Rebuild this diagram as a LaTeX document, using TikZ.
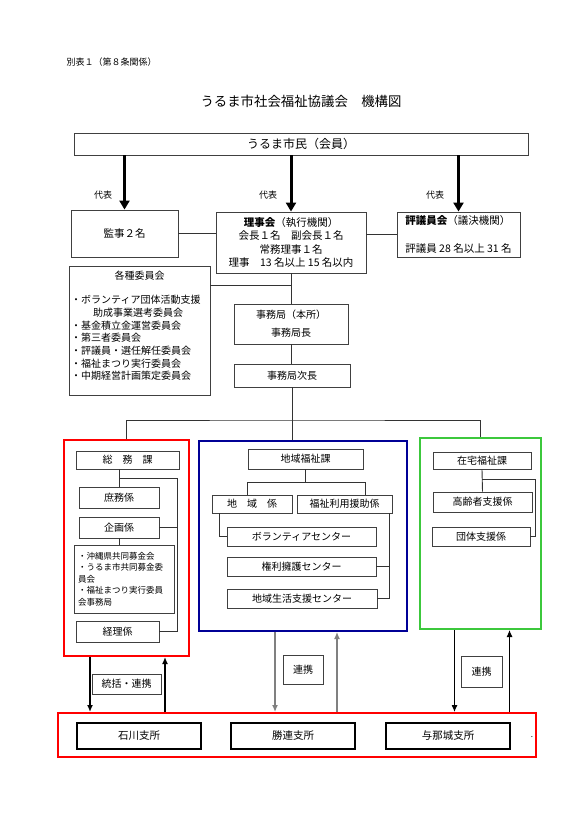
\documentclass[tikz,border=0pt]{standalone}
\usepackage{fontspec}
\setmainfont{Noto Sans CJK JP}
\usetikzlibrary{arrows.meta}
\definecolor{regionblue}{RGB}{0,0,150}
\definecolor{homegreen}{RGB}{60,200,60}

\begin{document}
\begin{tikzpicture}[x=1pt, y=-1pt,
    box/.style={draw=black!75, line width=0.9pt, inner sep=0pt, align=center, font=\fontsize{10}{12}\selectfont},
    wh/.style 2 args={minimum width=#1pt, minimum height=#2pt},
    group frame/.style={draw=#1, line width=2pt, inner sep=0pt},
    branch office/.style={draw=black, line width=2.5pt, inner sep=0pt, font=\fontsize{10.5}{12}\selectfont},
    link/.style={draw=black!80, line width=0.9pt},
    rep arrow/.style={line width=3pt, -{Triangle[length=9pt, width=10pt]}},
    liaison/.style={-{Latex[length=7pt, width=6pt]}},
    small/.style={font=\fontsize{9}{11}\selectfont}
  ]
  \path[fill=white] (0,0) rectangle (580,819);

  \node[anchor=west, font=\fontsize{9}{10}\selectfont] (sheet) at (63,62) {別表１（第８条関係）};
  \node[font=\fontsize{13.4}{15}\selectfont] (title) at (301,101) {うるま市社会福祉協議会　機構図};

  \node[box, wh={454}{22}, font=\fontsize{12}{14}\selectfont] (citizens) at (301,144) {うるま市民（会員）};
  \node[box, wh={107}{47}, font=\fontsize{10.5}{12}\selectfont] (auditor) at (124.5,233.5) {監事２名};
  \node[box, wh={150}{61}, font=\fontsize{10.5}{13.5}\selectfont] (board) at (291,242.5)
    {\textbf{理事会}（執行機関）\\会長１名　副会長１名\\常務理事１名\\理事　13 名以上 15 名以内};
  \node[box, wh={123}{45}, align=left, font=\fontsize{10.5}{13.5}\selectfont] (council) at (458.5,234.5)
    {\textbf{評議員会}（議決機関）\\[14pt]評議員 28 名以上 31 名};

  \begin{scope}[every node/.style={small}]
    \node (rep1) at (103,195) {代表};
    \node (rep2) at (268,195) {代表};
    \node (rep3) at (435,195) {代表};
  \end{scope}

  \node[box, wh={141}{129}] (committees) at (139.5,330.5) {};
  \node[font=\fontsize{10}{12}\selectfont] (committeestitle) at (139.5,276) {各種委員会};
  \node[anchor=north west, align=left, inner sep=0pt, font=\fontsize{10}{12.7}\selectfont] (committeelist) at (71,295)
    {・ボランティア団体活動支援\\\hspace*{2.2em}助成事業選考委員会\\・基金積立金運営委員会\\・第三者委員会\\・評議員・選任解任委員会\\・福祉まつり実行委員会\\・中期経営計画策定委員会};

  \node[box, wh={114}{40}, font=\fontsize{10}{18}\selectfont] (office) at (291,324) {事務局（本所）\\事務局長};
  \node[box, wh={116}{23}] (deputy) at (292,375.5) {事務局次長};

  \node[group frame=red, wh={125}{216}] (generalgrp) at (126.5,548) {};
  \node[group frame=regionblue, wh={208}{190}] (regiongrp) at (303,536) {};
  \node[group frame=homegreen, wh={121}{191}] (homegrp) at (480.5,533.5) {};

  \node[box, wh={103}{18}] (general) at (127.5,460) {総　務　課};
  \node[box, wh={80}{21}] (affairs) at (119,497.5) {庶務係};
  \node[box, wh={80}{21}] (planning) at (119,527.5) {企画係};
  \node[box, wh={100}{68}, text width=92pt, align=left, font=\fontsize{8.5}{11.5}\selectfont] (fund) at (124,579)
    {・沖縄県共同募金会\\・うるま市共同募金委\\員会\\・福祉まつり実行委員\\会事務局};
  \node[box, wh={83}{21}] (accounting) at (117.5,631.5) {経理係};

  \node[box, wh={115}{20}] (regionwelfare) at (305.5,459) {地域福祉課};
  \node[box, wh={80}{18}] (regionsec) at (252,504) {地　域　係};
  \node[box, wh={95}{18}] (usesupport) at (344.5,504) {福祉利用援助係};
  \node[box, wh={149}{19}] (volunteer) at (301.5,536.5) {ボランティアセンター};
  \node[box, wh={149}{19}] (advocacy) at (301.5,566.5) {権利擁護センター};
  \node[box, wh={150}{19}] (livingsupport) at (302,598.5) {地域生活支援センター};

  \node[box, wh={98}{17}] (homewelfare) at (482,460.5) {在宅福祉課};
  \node[box, wh={99}{20}] (elderly) at (482.5,502) {高齢者支援係};
  \node[box, wh={98}{19}] (groups) at (481,536.5) {団体支援係};

  \node[group frame=red, wh={478}{44}] (branches) at (297,735) {};
  \node[branch office, wh={124}{26}] (ishikawa) at (139,736) {石川支所};
  \node[branch office, wh={124}{26}] (katsuren) at (293,736) {勝連支所};
  \node[branch office, wh={124}{26}] (yonashiro) at (448,736) {与那城支所};
  \node[font=\fontsize{8}{9}\selectfont] (dot) at (532,737) {.};

  \node[box, wh={69}{20}] (oversee) at (126.5,684) {統括・連携};
  \node[box, wh={40}{29}] (coop1) at (303,669.5) {連携};
  \node[box, wh={41}{31}] (coop2) at (481.5,671.5) {連携};

  \draw[rep arrow] (citizens.south -| auditor.north) -- (auditor.north);
  \draw[rep arrow] (citizens.south -| board.north) -- (board.north);
  \draw[rep arrow] (citizens.south -| council.north) -- (council.north);

  \coordinate (committeejoin) at (291,285);
  \coordinate (divjoin) at (291,420);
  \draw[link] (auditor.east) -- (auditor.east -| board.west);
  \draw[link] (council.west -| board.east) -- (council.west);
  \draw[link] (board.south) -- (office.north);
  \draw[link] (committees.east |- committeejoin) -- (committeejoin);
  \draw[link] (office.south) -- (office.south |- deputy.north);
  \draw[link] (deputy.south) -- (deputy.south |- regiongrp.north);
  \draw[link] (generalgrp.north) |- (divjoin) -| (homegrp.north);

  \coordinate (generalbus) at (177,478);
  \draw[link] (general.south -| affairs.north) -- (affairs.north);
  \draw[link] (affairs.north |- generalbus) -- (generalbus) |- (accounting.east);
  \draw[link] (planning.east) -- (planning.east -| generalbus);
  \draw[link] (planning.south) -- (planning.south |- fund.north);

  \coordinate (regionbusl) at (247,482);
  \coordinate (regionbusr) at (365,482);
  \draw[link] (regionwelfare.south) -- (regionwelfare.south |- regionbusl);
  \draw[link] (regionsec.north -| regionbusl) -- (regionbusl) -- (regionbusr) -- (usesupport.north -| regionbusr);
  \draw[link] ([xshift=8pt]regionsec.south west) |- (volunteer.west);
  \draw[link] ([xshift=-3pt]usesupport.south east) coordinate (usebus) |- (livingsupport.east);
  \draw[link] (advocacy.east) -- (advocacy.east -| usebus);

  \coordinate (homebus) at (535,479);
  \draw[link] (homewelfare.south) -- (elderly.north);
  \draw[link] (homewelfare.south |- homebus) -- (homebus) |- (groups.east);

  \coordinate (genout) at ([xshift=-36.5pt]generalgrp.south);
  \coordinate (genin) at ([xshift=38.5pt]generalgrp.south);
  \coordinate (regout) at ([xshift=-28pt]regiongrp.south);
  \coordinate (regin) at ([xshift=34pt]regiongrp.south);
  \coordinate (homeout) at ([xshift=-26pt]homegrp.south);
  \coordinate (homein) at ([xshift=29pt]homegrp.south);
  \begin{scope}[every path/.style={liaison}]
    \draw[line width=2pt] (genout) -- (genout |- branches.north);
    \draw[line width=2pt] (genin |- branches.north) -- (genin);
    \draw[gray, line width=1.3pt] (regout) -- (regout |- branches.north);
    \draw[gray, line width=1.3pt] (regin |- branches.north) -- (regin);
    \draw[line width=1pt] (homeout) -- (homeout |- branches.north);
    \draw[line width=1pt] (homein |- branches.north) -- (homein);
  \end{scope}
\end{tikzpicture}
\end{document}
